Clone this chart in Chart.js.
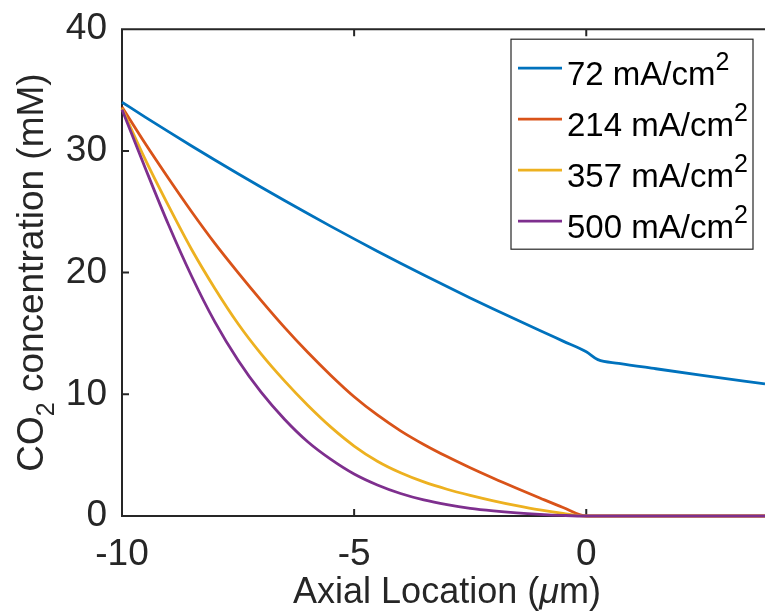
<!DOCTYPE html>
<html>
<head>
<meta charset="utf-8">
<title>CO2 concentration vs axial location</title>
<script src="https://cdn.jsdelivr.net/npm/chart.js@4.4.1/dist/chart.umd.min.js"></script>
<style>
  html, body { margin: 0; padding: 0; background: #fff; }
  canvas { display: block; }
</style>
</head>
<body>
<canvas id="co2Chart" width="765" height="614"></canvas>
<script>
// axial position along the catalyst layer (um) and CO2 concentration (mM) per current density
const axialPos = [-10, -9.5, -9, -8.5, -8, -7.5, -7, -6.5, -6, -5.5, -5, -4.5, -4, -3.5, -3, -2.5, -2, -1.5, -1, -0.5, 0, 0.25, 0.7, 1.5, 2.5, 3.85];
const co2At72 = [34.0, 32.78, 31.58, 30.4, 29.25, 28.12, 27.01, 25.92, 24.85, 23.8, 22.77, 21.76, 20.77, 19.8, 18.85, 17.92, 17.01, 16.12, 15.24, 14.37, 13.5, 12.85, 12.55, 12.1, 11.55, 10.85];
const co2At214 = [33.6, 30.6, 27.75, 25.0, 22.4, 20.0, 17.7, 15.5, 13.45, 11.55, 9.8, 8.3, 7.0, 5.88, 4.88, 3.96, 3.1, 2.28, 1.48, 0.7, 0, 0, 0, 0, 0, 0];
const co2At357 = [33.5, 29.3, 25.5, 21.9, 18.7, 15.8, 13.3, 11.1, 9.1, 7.3, 5.75, 4.5, 3.55, 2.8, 2.2, 1.7, 1.25, 0.85, 0.5, 0.22, 0, 0, 0, 0, 0, 0];
const co2At500 = [33.4, 28.6, 23.95, 19.7, 15.95, 12.8, 10.15, 7.95, 6.1, 4.65, 3.45, 2.55, 1.85, 1.32, 0.93, 0.63, 0.42, 0.26, 0.14, 0.05, 0, 0, 0, 0, 0, 0];

const seriesLabels = ['72 mA/cm²', '214 mA/cm²', '357 mA/cm²', '500 mA/cm²'];
const seriesValues = [co2At72, co2At214, co2At357, co2At500];
const lineColors = ['#0072BD', '#D95319', '#EDB120', '#7E2F8E'];

const xTickVals = [-10, -5, 0];
const yTickVals = [0, 10, 20, 30, 40];

const FONT = "'Liberation Sans', Arial, Helvetica, sans-serif";
const AXIS_COLOR = '#262626';
const TICK_LEN = 7;

// draws a run of text pieces (with sub/superscripts) starting at x, baseline y
function drawRuns(ctx, runs, x, y) {
  runs.forEach(r => {
    ctx.font = (r.style || '') + ' ' + r.size + 'px ' + FONT;
    ctx.fillText(r.text, x, y + (r.dy || 0));
    x += ctx.measureText(r.text).width;
  });
  return x;
}

function runsWidth(ctx, runs) {
  let w = 0;
  runs.forEach(r => {
    ctx.font = (r.style || '') + ' ' + r.size + 'px ' + FONT;
    w += ctx.measureText(r.text).width;
  });
  return w;
}

// box, inward ticks and axis titles (MATLAB-style axes)
const axesFrame = {
  id: 'axesFrame',
  beforeDatasetsDraw(chart) {
    const { ctx, chartArea: a, scales: { x, y } } = chart;
    ctx.save();
    ctx.strokeStyle = AXIS_COLOR;
    ctx.lineWidth = 2;
    ctx.beginPath();
    ctx.moveTo(a.right + 2, a.top);
    ctx.lineTo(a.left, a.top);
    ctx.lineTo(a.left, a.bottom);
    ctx.lineTo(a.right + 2, a.bottom);
    xTickVals.forEach(v => {
      const px = x.getPixelForValue(v);
      ctx.moveTo(px, a.bottom); ctx.lineTo(px, a.bottom - TICK_LEN);
      ctx.moveTo(px, a.top); ctx.lineTo(px, a.top + TICK_LEN);
    });
    yTickVals.forEach(v => {
      const py = y.getPixelForValue(v);
      ctx.moveTo(a.left, py); ctx.lineTo(a.left + TICK_LEN, py);
    });
    ctx.stroke();
    ctx.restore();
  },
  afterDraw(chart) {
    const { ctx, chartArea: a, scales: { x } } = chart;
    ctx.save();
    ctx.fillStyle = AXIS_COLOR;
    ctx.textBaseline = 'alphabetic';
    ctx.textAlign = 'left';

    // x title, centred on the full -10..4 span of the axes
    const xRuns = [
      { text: 'Axial Location (', size: 36 },
      { text: 'μ', size: 36, style: 'italic' },
      { text: 'm)', size: 36 }
    ];
    const cx = x.getPixelForValue(-3);
    drawRuns(ctx, xRuns, cx - runsWidth(ctx, xRuns) / 2, 603);

    // y title, rotated
    const yRuns = [
      { text: 'CO', size: 37 },
      { text: '2', size: 25, dy: 11 },
      { text: ' concentration (mM)', size: 37 }
    ];
    ctx.translate(43, (a.top + a.bottom) / 2);
    ctx.rotate(-Math.PI / 2);
    drawRuns(ctx, yRuns, -runsWidth(ctx, yRuns) / 2, 0);
    ctx.restore();

    // legend box
    const bx = a.right - 254, by = a.top + 10, bw = 242, bh = 210, rowH = 51;
    ctx.save();
    ctx.fillStyle = '#fff';
    ctx.fillRect(bx, by, bw, bh);
    ctx.strokeStyle = AXIS_COLOR;
    ctx.lineWidth = 1.2;
    ctx.strokeRect(bx, by, bw, bh);
    chart.data.datasets.forEach((ds, i) => {
      const ly = by + 29 + i * rowH;
      ctx.strokeStyle = ds.borderColor;
      ctx.lineWidth = 2.8;
      ctx.beginPath();
      ctx.moveTo(bx + 7, ly);
      ctx.lineTo(bx + 51, ly);
      ctx.stroke();
      ctx.fillStyle = '#000';
      const main = ds.label.replace('²', '');
      drawRuns(ctx, [
        { text: main, size: 33 },
        { text: '2', size: 25, dy: -15 }
      ], bx + 56, by + 46 + i * rowH);
    });
    ctx.restore();
  }
};

const ctx = document.getElementById('co2Chart');

new Chart(ctx, {
  type: 'line',
  data: {
    datasets: seriesValues.map((vals, i) => ({
      label: seriesLabels[i],
      data: axialPos.map((p, k) => ({ x: p, y: vals[k] })),
      borderColor: lineColors[i],
      backgroundColor: lineColors[i],
      borderWidth: 2.8,
      pointRadius: 0,
      cubicInterpolationMode: 'monotone',
      order: seriesValues.length - i, // later series drawn on top
      clip: 6
    }))
  },
  options: {
    responsive: false,
    animation: false,
    layout: { padding: { top: 27, left: 0, right: 0, bottom: 0 } },
    plugins: {
      legend: { display: false },
      tooltip: { enabled: false }
    },
    scales: {
      x: {
        type: 'linear',
        min: -10,
        max: 3.85,
        afterBuildTicks(scale) { scale.ticks = xTickVals.map(v => ({ value: v })); },
        afterFit(scale) { scale.height = 98; },
        grid: { display: false },
        border: { display: false },
        ticks: {
          color: AXIS_COLOR,
          font: { family: FONT, size: 37 },
          padding: 9,
          maxRotation: 0,
          autoSkip: false
        }
      },
      y: {
        min: 0,
        max: 40,
        afterBuildTicks(scale) { scale.ticks = yTickVals.map(v => ({ value: v })); },
        afterFit(scale) { scale.width = 122; },
        grid: { display: false },
        border: { display: false },
        ticks: {
          color: AXIS_COLOR,
          font: { family: FONT, size: 37 },
          padding: 7
        }
      }
    }
  },
  plugins: [axesFrame]
});
</script>
</body>
</html>
